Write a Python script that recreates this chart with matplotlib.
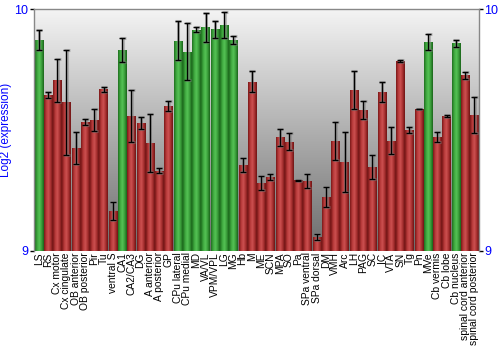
import numpy as np
import matplotlib.pyplot as plt
from matplotlib.colors import LinearSegmentedColormap

# регионы мозга и уровни экспрессии (log2)
regions = [
    "LS", "RS", "Cx motor", "Cx cingulate", "OB anterior", "OB posterior", "Pir", "Tu",
    "ventral S", "CA1", "CA2/CA3", "DG", "A anterior", "A posterior", "GP",
    "CPu lateral", "CPu medial", "MD", "VA/VL", "VPM/VPL", "LG", "MG", "Hb", "M",
    "ME", "SCN", "MPA", "SO", "Pa", "SPa ventral", "SPa dorsal", "DM", "VMH", "Arc",
    "LH", "PAG", "SC", "IC", "VTA", "SN", "Tg", "Pn", "MVe", "Cb vermis", "Cb lobe",
    "Cb nucleus", "spinal cord anterior", "spinal cord posterior",
]
values = [
    9.872, 9.646, 9.705, 9.614, 9.424, 9.533, 9.541, 9.669,
    9.165, 9.831, 9.558, 9.528, 9.445, 9.331, 9.600,
    9.870, 9.824, 9.915, 9.924, 9.916, 9.933, 9.872, 9.355, 9.700,
    9.280, 9.306, 9.470, 9.452, 9.292, 9.289, 9.057, 9.223, 9.455, 9.368,
    9.667, 9.583, 9.347, 9.657, 9.456, 9.785, 9.500, 9.587, 9.862, 9.471, 9.557,
    9.858, 9.726, 9.562,
]
errors = [
    0.043, 0.012, 0.090, 0.218, 0.066, 0.014, 0.047, 0.010,
    0.037, 0.051, 0.109, 0.025, 0.120, 0.010, 0.022,
    0.079, 0.119, 0.010, 0.060, 0.034, 0.054, 0.015, 0.028, 0.043,
    0.030, 0.014, 0.036, 0.036, 0.003, 0.028, 0.012, 0.041, 0.079, 0.123,
    0.079, 0.039, 0.050, 0.043, 0.057, 0.004, 0.013, 0.002, 0.033, 0.019, 0.004,
    0.013, 0.013, 0.074,
]
# отмеченные регионы (зелёные столбцы)
highlighted = {"LS", "CA1", "CPu lateral", "CPu medial", "MD", "VA/VL", "VPM/VPL",
               "LG", "MG", "MVe", "Cb nucleus"}

Y_MIN, Y_MAX = 9, 10

green_cmap = LinearSegmentedColormap.from_list(
    "g", ["#1f6f1f", "#3fa83f", "#55c255", "#3a9d3a", "#1a641a"])
red_cmap = LinearSegmentedColormap.from_list(
    "r", ["#7a1818", "#b83a3a", "#cc5050", "#a83030", "#6e1414"])

fig = plt.figure(figsize=(5, 3.5), dpi=100)
ax = fig.add_axes([0.068, 0.283, 0.89, 0.691])

x = np.arange(len(regions))
ax.set_xlim(-0.5, len(regions) - 0.5)
ax.set_ylim(Y_MIN, Y_MAX)

# фон: вертикальный градиент от светлого к серому
bg = np.linspace(0, 1, 256).reshape(-1, 1)
bg_cmap = LinearSegmentedColormap.from_list("bg", ["#6c6c6c", "#f4f4f4"])
ax.imshow(bg, cmap=bg_cmap, aspect="auto", origin="lower",
          extent=(-0.5, len(regions) - 0.5, Y_MIN, Y_MAX), zorder=0)

bars = ax.bar(x, [v - Y_MIN for v in values], bottom=Y_MIN, width=0.88,
              color="none", edgecolor="none", zorder=2)
grad = np.linspace(0, 1, 64).reshape(1, -1)
for xi, bar, name in zip(x, bars, regions):
    cmap = green_cmap if name in highlighted else red_cmap
    h = bar.get_height()
    im = ax.imshow(grad, cmap=cmap, aspect="auto",
                   extent=(xi - 0.44, xi + 0.44, Y_MIN, Y_MIN + h), zorder=2)
    im.set_clip_path(bar)

# тень под планками погрешностей
ax.errorbar(x + 0.06, values, yerr=errors, fmt="none", ecolor="#888888",
            elinewidth=2.2, capsize=2.5, capthick=2.2, alpha=0.5, zorder=3)
ax.errorbar(x, values, yerr=errors, fmt="none", ecolor="black",
            elinewidth=1, capsize=2.5, capthick=1, zorder=4)

ax.set_xticks(x)
ax.set_xticklabels(regions, rotation=90, fontsize=7.4, family="Liberation Sans")
ax.tick_params(axis="x", length=0, pad=1)

ax.set_yticks([9, 10])
ax.set_yticklabels(["9", "10"])
ax.tick_params(axis="y", colors="black", labelcolor="#0000ff", labelsize=9,
               length=3, width=1, pad=1, left=True, right=True,
               labelleft=True, labelright=True)
for lbl in ax.get_yticklabels():
    lbl.set_family("Liberation Sans")
ax.set_ylabel("Log2 (expression)", color="#0000ff", fontsize=8.5,
              family="Liberation Sans", labelpad=2)

for side in ("left", "right", "top"):
    ax.spines[side].set_color("#888888")
    ax.spines[side].set_linewidth(1)
ax.spines["bottom"].set_visible(False)

fig.savefig("out.png", dpi=100)
